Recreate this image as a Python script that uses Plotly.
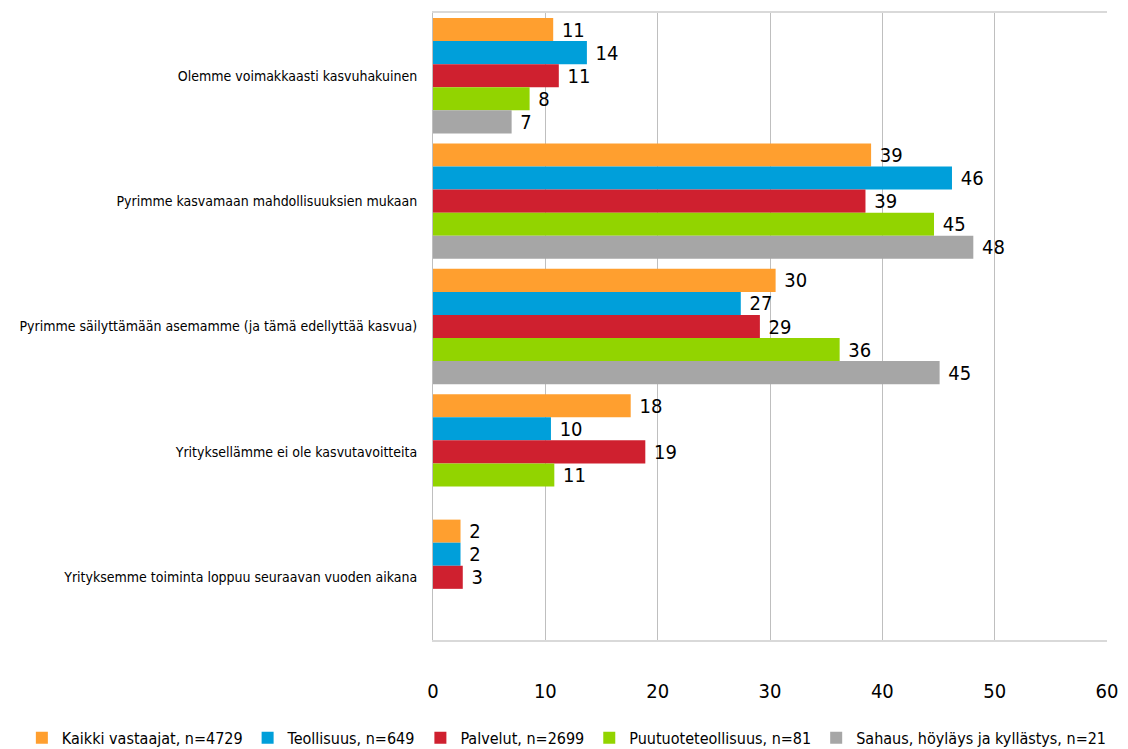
import plotly.graph_objects as go

categories = [
    "Olemme voimakkaasti kasvuhakuinen",
    "Pyrimme kasvamaan mahdollisuuksien mukaan",
    "Pyrimme säilyttämään asemamme (ja tämä edellyttää kasvua)",
    "Yrityksellämme ei ole kasvutavoitteita",
    "Yrityksemme toiminta loppuu seuraavan vuoden aikana",
]

series_names = [
    "Kaikki vastaajat, n=4729",
    "Teollisuus, n=649",
    "Palvelut, n=2699",
    "Puutuoteteollisuus, n=81",
    "Sahaus, höyläys ja kyllästys, n=21",
]

kaikki = [10.7, 39.0, 30.5, 17.6, 2.45]
teollisuus = [13.7, 46.2, 27.4, 10.5, 2.45]
palvelut = [11.2, 38.5, 29.1, 18.9, 2.65]
puutuote = [8.6, 44.6, 36.2, 10.8, None]
sahaus = [7.0, 48.1, 45.1, None, None]

kaikki_lbl = ["11", "39", "30", "18", "2"]
teollisuus_lbl = ["14", "46", "27", "10", "2"]
palvelut_lbl = ["11", "39", "29", "19", "3"]
puutuote_lbl = ["8", "45", "36", "11", ""]
sahaus_lbl = ["7", "48", "45", "", ""]

colors = ["#FF9F2F", "#009FDA", "#CF202F", "#92D400", "#A6A6A6"]

values = [kaikki, teollisuus, palvelut, puutuote, sahaus]
labels = [kaikki_lbl, teollisuus_lbl, palvelut_lbl, puutuote_lbl, sahaus_lbl]

NARROW = "DejaVu Sans Condensed, Liberation Sans Narrow, DejaVu Sans, sans-serif"

fig = go.Figure()
for name, vals, lbls, col in zip(series_names, values, labels, colors):
    fig.add_trace(
        go.Bar(
            name=name,
            y=categories,
            x=vals,
            orientation="h",
            marker=dict(color=col, line=dict(width=0)),
            text=lbls,
            texttemplate=" %{text}",
            textposition="outside",
            textfont=dict(family=NARROW, size=20, color="#000000"),
            constraintext="none",
            cliponaxis=False,
            hoverinfo="x+name",
        )
    )

# the page body has an 8px margin, so the figure is a bit smaller than the window
fig.update_layout(
    barmode="group",
    bargap=0.08,
    bargroupgap=0,
    width=1120,
    height=741,
    margin=dict(l=425, r=21, t=5, b=109, autoexpand=False),
    plot_bgcolor="white",
    paper_bgcolor="white",
    font=dict(family=NARROW, size=14, color="#000000"),
    legend=dict(
        orientation="h",
        x=-0.61,
        y=-0.156,
        xanchor="left",
        yanchor="middle",
        font=dict(family=NARROW, size=16),
        itemwidth=30,
        tracegroupgap=0,
    ),
)

fig.update_xaxes(
    range=[0, 60],
    dtick=10,
    showgrid=True,
    gridcolor="#BFBFBF",
    gridwidth=1,
    showline=True,
    linecolor="#D9D9D9",
    linewidth=2,
    mirror=True,
    zeroline=False,
    ticks="",
    tickfont=dict(family=NARROW, size=20),
    ticklabelstandoff=32,
    automargin=False,
)
fig.update_yaxes(
    autorange="reversed",
    showline=True,
    linecolor="#BFBFBF",
    linewidth=1,
    ticks="",
    tickfont=dict(family=NARROW, size=14),
    ticklabelstandoff=12,
    automargin=False,
)

fig.write_html("out.html")
